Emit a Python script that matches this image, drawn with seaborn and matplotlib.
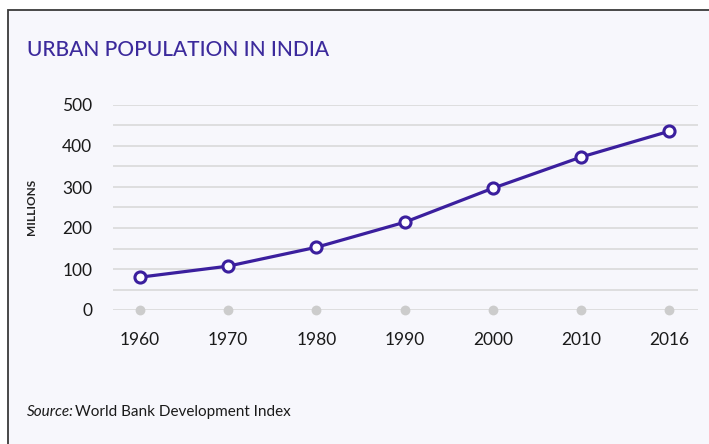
import pandas as pd
import numpy as np
import matplotlib
matplotlib.use('Agg')
import matplotlib.pyplot as plt
import matplotlib.patches as patches
import seaborn as sns

# data
years = ['1960', '1970', '1980', '1990', '2000', '2010', '2016']
urban_millions = [80, 107, 153, 214, 297, 373, 436]
y_ticks = [0, 100, 200, 300, 400, 500]

df = pd.DataFrame({'year': years, 'pop': urban_millions})
df['zero'] = 0

sns.set_style('white')
plt.rcParams['font.family'] = ['Lato', 'DejaVu Sans']

purple = '#3b1f9e'
W, H = 709, 444
fig = plt.figure(figsize=(W / 100, H / 100), dpi=100, facecolor='white')

# panel frame
frame = patches.Rectangle((8 / W, -0.1), 1.2, (H - 10) / H + 0.1, transform=fig.transFigure,
                          facecolor='#f7f7fc', edgecolor='#3a3a3a', linewidth=1.3, zorder=-5)
fig.patches.append(frame)

ax = fig.add_axes([113 / W, (H - 310) / H, 585 / W, 205 / H])
ax.set_facecolor('none')
ax.set_zorder(2)

sns.lineplot(data=df, x='year', y='pop', ax=ax, color=purple, linewidth=2.3, sort=False,
             marker='o', markersize=8, markerfacecolor='white', markeredgecolor=purple,
             markeredgewidth=2.2, clip_on=False, zorder=5)
sns.scatterplot(data=df, x='year', y='zero', ax=ax, color='#cccccc', s=50, linewidth=0,
                clip_on=False, zorder=4)

ax.set_xlim(-0.306, 6.326)
ax.set_ylim(0, 500)
ax.set_yticks(y_ticks)
ax.set_yticks(np.arange(50, 500, 100), minor=True)
ax.grid(axis='y', which='both', color='#dcdcdc', linewidth=1.3, zorder=0)
ax.set_axisbelow(True)
for s in ax.spines.values():
    s.set_visible(False)
ax.tick_params(axis='both', which='both', length=0, labelsize=12.5, labelcolor='#1a1a1a')
ax.tick_params(axis='y', pad=15)
ax.tick_params(axis='x', pad=16)
ax.set_xlabel('')
ax.set_ylabel('')

fig.text(27 / W, (H - 50) / H, 'URBAN POPULATION IN INDIA', fontsize=15, color='#3c2a9c',
         va='center', ha='left', fontweight='medium')
fig.text(32 / W, (H - 207) / H, 'MILLIONS', fontsize=8.5, fontweight='bold', rotation=90,
         va='center', ha='center', color='#222222')
fig.text(27 / W, (H - 412) / H, 'Source:', fontsize=11, style='italic', va='center', color='#1a1a1a')
fig.text(75 / W, (H - 412) / H, 'World Bank Development Index', fontsize=11, va='center', color='#1a1a1a')

fig.savefig('out.png', dpi=100, facecolor='white')
